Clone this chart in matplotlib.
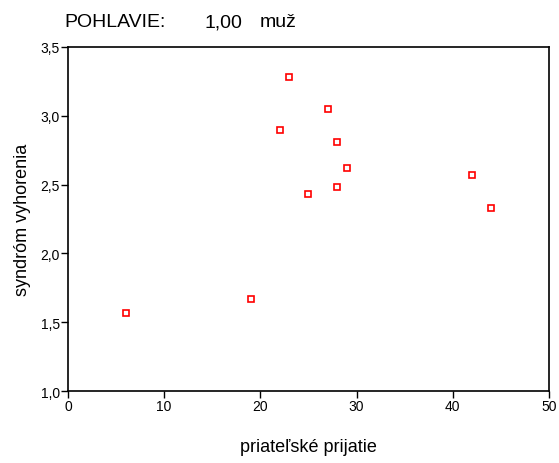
import matplotlib.pyplot as plt
from matplotlib.ticker import FuncFormatter

plt.rcParams['font.family'] = ['Liberation Sans', 'DejaVu Sans']

# data
prijatie = [23, 27, 22, 28, 29, 28, 25, 42, 44, 19, 6]
syndrom = [3.28, 3.05, 2.90, 2.81, 2.62, 2.48, 2.43, 2.57, 2.33, 1.67, 1.57]

x_ticks = [0, 10, 20, 30, 40, 50]
y_ticks = [1.0, 1.5, 2.0, 2.5, 3.0, 3.5]

fig = plt.figure(figsize=(5.59, 4.64), dpi=100)
ax = fig.add_axes([0.1216, 0.155, 0.8604, 0.7416])

ax.plot(prijatie, syndrom, linestyle='none', marker='s', markersize=5,
        markerfacecolor='white', markeredgecolor='red', markeredgewidth=1.2)

ax.set_xlim(0, 50)
ax.set_ylim(1.0, 3.5)
ax.set_xticks(x_ticks)
ax.set_yticks(y_ticks)
ax.yaxis.set_major_formatter(FuncFormatter(lambda v, p: f"{v:.1f}".replace('.', ',')))
ax.tick_params(direction='out', length=5, width=1, labelsize=10, pad=1,
               top=False, right=False)
for s in ax.spines.values():
    s.set_linewidth(1.2)

ax.set_xlabel('priateľské prijatie', fontsize=13, labelpad=18)
ax.set_ylabel('syndróm vyhorenia', fontsize=13, labelpad=7)

fig.text(0.116, 0.951, 'POHLAVIE:', fontsize=14, va='center')
fig.text(0.365, 0.951, '1,00', fontsize=14, va='center')
fig.text(0.465, 0.951, 'muž', fontsize=14, va='center')

fig.savefig('out.png', dpi=100)
